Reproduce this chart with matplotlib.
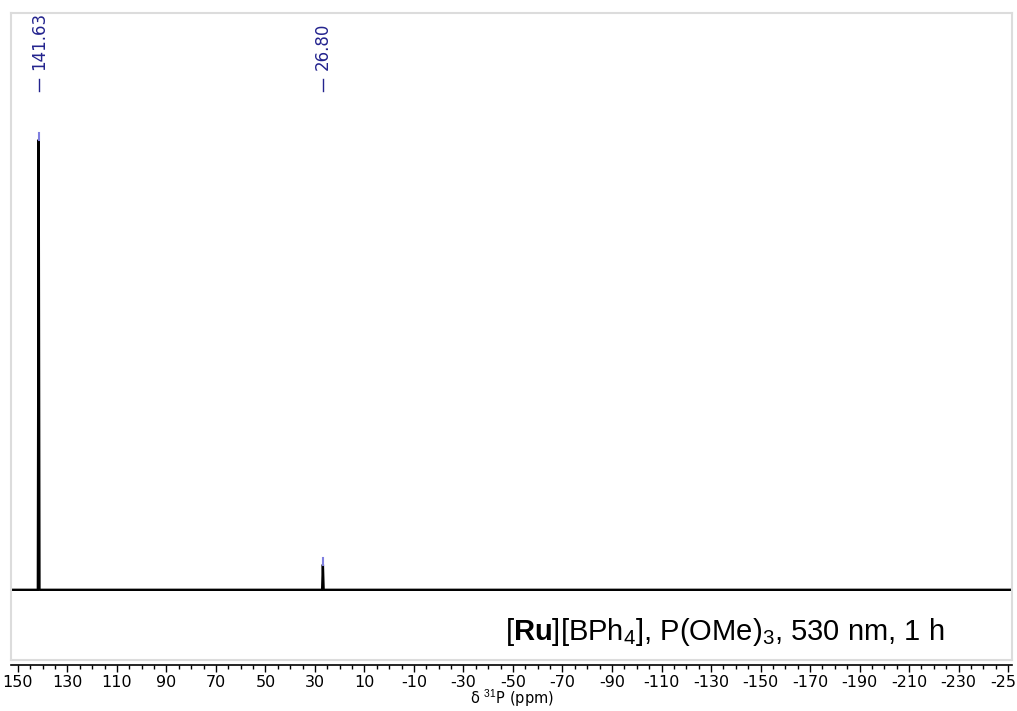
import matplotlib.pyplot as plt
import matplotlib.transforms as mtransforms

plt.rcParams['mathtext.fontset'] = 'custom'
plt.rcParams['mathtext.rm'] = 'Liberation Sans'
plt.rcParams['mathtext.bf'] = 'Liberation Sans:bold'

# 31P spectrum trace (ppm, relative intensity)
shift = [152.8, 141.95, 141.63, 141.3, 27.1, 26.80, 26.5, -251.6]
intensity = [0.0, 0.0, 100.0, 0.0, 0.0, 5.6, 0.0, 0.0]

# picked peaks
peak_ppm = [141.63, 26.80]
peak_height = [100.0, 5.6]
peak_labels = ['141.63', '26.80']

tick_ppm = list(range(150, -251, -20))
tick_labels = [str(t) for t in tick_ppm]

navy = '#23238e'
pale = '#8080e0'

fig = plt.figure(figsize=(10.17, 7.11), dpi=100)
ax = fig.add_axes([11/1017, 51/711, 1001/1017, 647/711])

ax.plot(shift, intensity, color='black', lw=1.7)
ax.set_xlim(152.8, -251.6)
ax.set_ylim(-15.6, 128.2)
ax.set_xticks([])
ax.set_yticks([])
for sp in ax.spines.values():
    sp.set_color('#dcdcdc')
    sp.set_linewidth(1.5)

# peak markers and labels
trans = mtransforms.blended_transform_factory(ax.transData, ax.transAxes)
for p, h, lab in zip(peak_ppm, peak_height, peak_labels):
    ax.plot([p, p], [h, h + 1.55], color=pale, lw=1.5)
    ax.plot([p, p], [0.880, 0.898], color=navy, lw=1.0, transform=trans)
    ax.text(p, 0.912, lab, rotation=90, ha='center', va='bottom',
            fontsize=12, color=navy, transform=trans)

ax.text(0.4935, 0.044,
        r'[$\mathbf{Ru}$][BPh$_4$], P(OMe)$_3$, 530 nm, 1 h',
        transform=ax.transAxes, ha='left', va='center',
        fontsize=21, family='Liberation Sans')

# ppm scale below the frame
sec = ax.secondary_xaxis(-0.0077)
sec.set_xticks(tick_ppm, tick_labels)
sec.set_xticks(list(range(150, -251, -5)), minor=True)
sec.tick_params(axis='x', which='major', length=5, width=1, pad=2, labelsize=11.5)
sec.tick_params(axis='x', which='minor', length=3, width=1)
sec.spines['bottom'].set_linewidth(1.2)
fig.text(0.5 * (11 + 1012) / 1017, 12 / 711, r'δ $^{\mathrm{31}}$P (ppm)',
         ha='center', va='center', fontsize=10.5)

fig.savefig('out.png', dpi=100)
